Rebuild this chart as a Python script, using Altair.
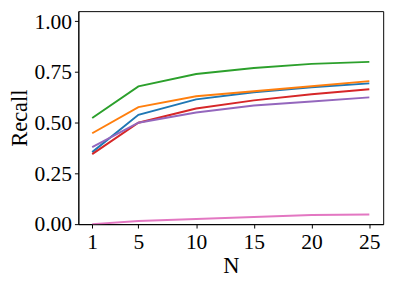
import altair as alt
import pandas as pd

N = [1, 5, 10, 15, 20, 25]
series_names = ["blue", "orange", "green", "red", "purple", "pink"]
colors = ["#1f77b4", "#ff7f0e", "#2ca02c", "#d62728", "#9467bd", "#e377c2"]
blue = [0.355, 0.539, 0.615, 0.650, 0.675, 0.694]
orange = [0.448, 0.577, 0.630, 0.655, 0.680, 0.705]
green = [0.523, 0.679, 0.740, 0.770, 0.790, 0.800]
red = [0.345, 0.500, 0.570, 0.610, 0.640, 0.665]
purple = [0.380, 0.500, 0.550, 0.585, 0.605, 0.625]
pink = [0.000, 0.015, 0.025, 0.035, 0.045, 0.048]

vals = [blue, orange, green, red, purple, pink]
rows = []
for name, v in zip(series_names, vals):
    for n, y in zip(N, v):
        rows.append({"N": n, "Recall": y, "series": name})
df = pd.DataFrame(rows)

font = "Liberation Serif"

chart = alt.Chart(df).mark_line(strokeWidth=2, clip=True).encode(
    x=alt.X("N:Q", scale=alt.Scale(domain=[-0.2, 26.2], nice=False, zero=False),
            axis=alt.Axis(values=N, title="N", grid=False, tickSize=4, labelPadding=4,
                          titlePadding=2, format="d")),
    y=alt.Y("Recall:Q", scale=alt.Scale(domain=[0, 1.05], nice=False),
            axis=alt.Axis(values=[0, 0.25, 0.5, 0.75, 1.0], format=".2f", title="Recall",
                          grid=False, tickSize=4, labelPadding=3, titlePadding=3)),
    color=alt.Color("series:N", scale=alt.Scale(domain=series_names, range=colors), legend=None),
    detail="series:N",
).properties(
    width=312, height=218,
    autosize=alt.AutoSizeParams(type="none"),
    padding={"left": 72, "top": 0, "right": 8, "bottom": 56},
).configure_view(
    stroke="black", strokeWidth=1
).configure_axis(
    domainColor="black", tickColor="black", labelColor="black", titleColor="black",
    labelFont=font, titleFont=font, labelFontSize=22, titleFontSize=23,
    titleFontWeight="normal", domainWidth=1, tickWidth=1
)

chart.save("out.html", embed_options={"renderer": "svg", "actions": False})
